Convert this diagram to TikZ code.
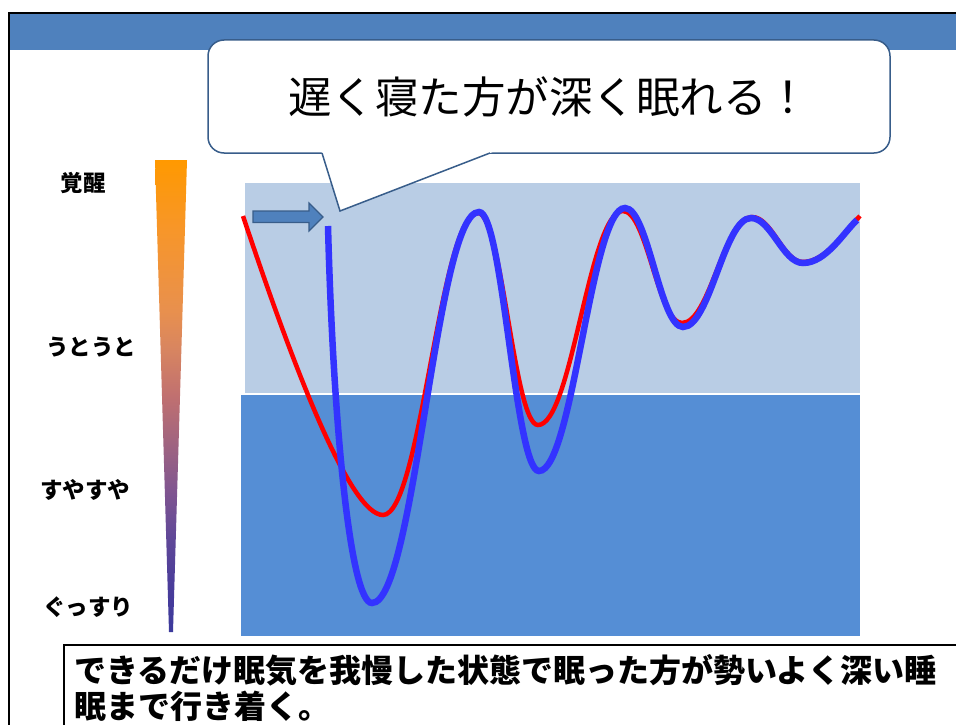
\documentclass[tikz,border=0pt]{standalone}
\usepackage{fontspec}
\newfontfamily\jp{Noto Sans CJK JP}
\definecolor{hdrblue}{HTML}{4F81BD}
\definecolor{edgeblue}{HTML}{385D8A}
\definecolor{lightzone}{HTML}{B9CDE5}
\definecolor{deepzone}{HTML}{558ED5}
\definecolor{curveblue}{HTML}{3333FF}
\pgfdeclareverticalshading{wedgeshade}{100bp}{%
  color(0bp)=(rgb,255:red,60;green,58;blue,156);
  color(25bp)=(rgb,255:red,60;green,58;blue,156);
  color(30bp)=(rgb,255:red,74;green,60;blue,154);
  color(35bp)=(rgb,255:red,96;green,72;blue,152);
  color(40bp)=(rgb,255:red,128;green,85;blue,144);
  color(45bp)=(rgb,255:red,160;green,100;blue,128);
  color(50bp)=(rgb,255:red,192;green,112;blue,112);
  color(55bp)=(rgb,255:red,216;green,133;blue,96);
  color(59bp)=(rgb,255:red,232;green,144;blue,78);
  color(67.5bp)=(rgb,255:red,247;green,150;blue,42);
  color(75bp)=(rgb,255:red,255;green,153;blue,0);
  color(100bp)=(rgb,255:red,255;green,153;blue,0)}
\tikzset{
  lvl/.style={font=\jp\bfseries\fontsize{22.5}{26}\selectfont, inner sep=0pt},
  callout/.style={draw=edgeblue, line width=1.5pt, fill=white, rounded corners=16pt},
  redcurve/.style={draw=red, line width=4.5pt},
  bluecurve/.style={draw=curveblue, line width=6.5pt}
}
\begin{document}
\begin{tikzpicture}[x=1pt,y=-1pt]
\useasboundingbox (0,0) rectangle (956,725);
\clip (0,0) rectangle (956,725);
\fill[white] (0,0) rectangle (956,725);
% header bar and frame
\fill[hdrblue] (9,13) rectangle (970,50);
\draw[black, line width=2pt] (9,13) rectangle (975,740);
% zones
\fill[lightzone] (245,183) rectangle (860,393);
\fill[deepzone] (241,395) rectangle (860,636);
% gradient wedge
\shade[shading=wedgeshade]
  (155,160) -- (187,160) -- (173,632) -- (169,632) -- cycle;
% level labels
\node[lvl] (kakusei) at (83,183) {覚醒};
\node[lvl] (utouto) at (91,347) {うとうと};
\node[lvl] (suyasuya) at (85,490) {すやすや};
\node[lvl] (gussuri) at (88,607) {ぐっすり};
% block arrow
\filldraw[fill=hdrblue, draw=edgeblue, line width=1.2pt, line join=miter]
  (253,211) -- (309,211) -- (309,203) -- (323,217) -- (309,231) -- (309,222.5) -- (253,222.5) -- cycle;
% red curve
\draw[redcurve] (243,216)
  .. controls (293,366) and (350,515) .. (383,515)
  .. controls (421,515) and (440,213) .. (478,213)
  .. controls (502,213) and (514,425) .. (538,425)
  .. controls (572,425) and (589,211) .. (623,211)
  .. controls (647,211) and (658,323) .. (682,323)
  .. controls (710,323) and (724,217) .. (752,217)
  .. controls (772,217) and (783,262) .. (803,262)
  .. controls (826,262) and (845,231) .. (860,216);
% blue curve
\draw[bluecurve] (328,226)
  .. controls (333,420) and (350,603) .. (372,603)
  .. controls (415,603) and (436,212) .. (479,212)
  .. controls (503,212) and (515,471) .. (539,471)
  .. controls (573,471) and (591,208) .. (625,208)
  .. controls (648,208) and (660,327) .. (683,327)
  .. controls (710,327) and (724,218) .. (751,218)
  .. controls (771,218) and (783,263) .. (803,263)
  .. controls (826,263) and (844,232) .. (857,220);
% callout
\node[callout, minimum width=682pt, minimum height=113pt, inner sep=0pt,
      font=\jp\fontsize{43.5}{50}\selectfont] (bubble) at (549,96.5) {遅く寝た方が深く眠れる！};
\fill[white] (321.4,151) -- (340,211) -- (495.2,151) -- cycle;
\draw[edgeblue, line width=1.5pt, line join=miter] (322,153) -- (340,211) -- (490,153);
% bottom text box
\draw[black, line width=2pt, fill=white] (64,645) rectangle (980,760);
\node[anchor=north west, align=left, inner sep=0pt,
      font=\jp\bfseries\fontsize{32}{36}\selectfont] (summary) at (74,654)
  {できるだけ眠気を我慢した状態で眠った方が勢いよく深い睡\\眠まで行き着く。};
\end{tikzpicture}
\end{document}
